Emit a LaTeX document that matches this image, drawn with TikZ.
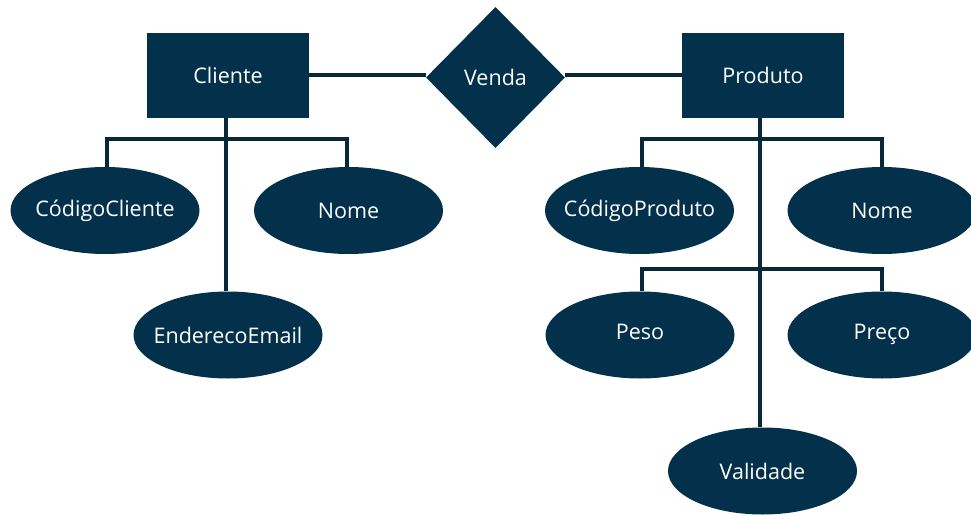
\documentclass[tikz,border=0pt]{standalone}
\usepackage{fontspec}
\setmainfont{Open Sans}
\usetikzlibrary{shapes.geometric}
\definecolor{navy}{HTML}{03304A}
\definecolor{wire}{HTML}{062838}
% zero-width label so the ellipse keeps its own fixed size
\newcommand\attrtext[2][0pt]{\makebox[0pt]{\raisebox{#1}{#2}}}
\begin{document}
\begin{tikzpicture}[x=1pt,y=-1pt,
  label font/.style={font=\fontsize{21.5}{24}\selectfont},
  entity/.style={rectangle,fill=navy,text=white,minimum width=162pt,minimum height=85pt,inner sep=0pt,label font},
  relation/.style={diamond,fill=navy,text=white,minimum width=139pt,minimum height=141pt,inner sep=0pt,label font},
  attr/.style={ellipse,fill=navy,text=white,minimum width=189pt,minimum height=87pt,inner sep=0pt,label font},
  link/.style={draw=wire,line width=4pt}]
\useasboundingbox (0,0) rectangle (971,516);

% branching points of the attribute trees
\coordinate (cbar) at (226,139);
\coordinate (pbar1) at (760,139);
\coordinate (pbar2) at (760,269);

% entities and relationship
\node[entity] (cliente) at (228,75.5) {Cliente};
\node[entity] (produto) at (763,75.5) {Produto};
\node[relation] (venda) at (495.5,77.5) {Venda};

% attributes
\node[attr] (codcli) at (105,210.5) {\attrtext{CódigoCliente}};
\node[attr] (nomecli) at (348.5,210.5) {\attrtext{Nome}};
\node[attr] (email) at (228,335) {\attrtext{EnderecoEmail}};
\node[attr] (codprod) at (639.5,210.5) {\attrtext{CódigoProduto}};
\node[attr] (nomeprod) at (882,210.5) {\attrtext{Nome}};
\node[attr] (peso) at (640,335) {\attrtext[7pt]{Peso}};
\node[attr] (preco) at (882,335) {\attrtext[7pt]{Preço}};
\node[attr] (validade) at (762.5,471) {\attrtext{Validade}};

% relationship lines
\draw[link] (cliente.east) -- (cliente.east -| venda.west);
\draw[link] (venda.east |- produto.west) -- (produto.west);

% Cliente attributes
\draw[link] (cliente.south -| cbar) -- (email.north -| cbar);
\draw[link] (codcli.north -| 107,0) |- (cbar) -| (nomecli.north -| 347,0);

% Produto attributes
\draw[link] (produto.south -| pbar1) -- (validade.north -| pbar1);
\draw[link] (codprod.north -| 642,0) |- (pbar1) -| (nomeprod.north -| 882,0);
\draw[link] (peso.north -| 642,0) |- (pbar2) -| (preco.north -| 882,0);
\end{tikzpicture}
\end{document}
